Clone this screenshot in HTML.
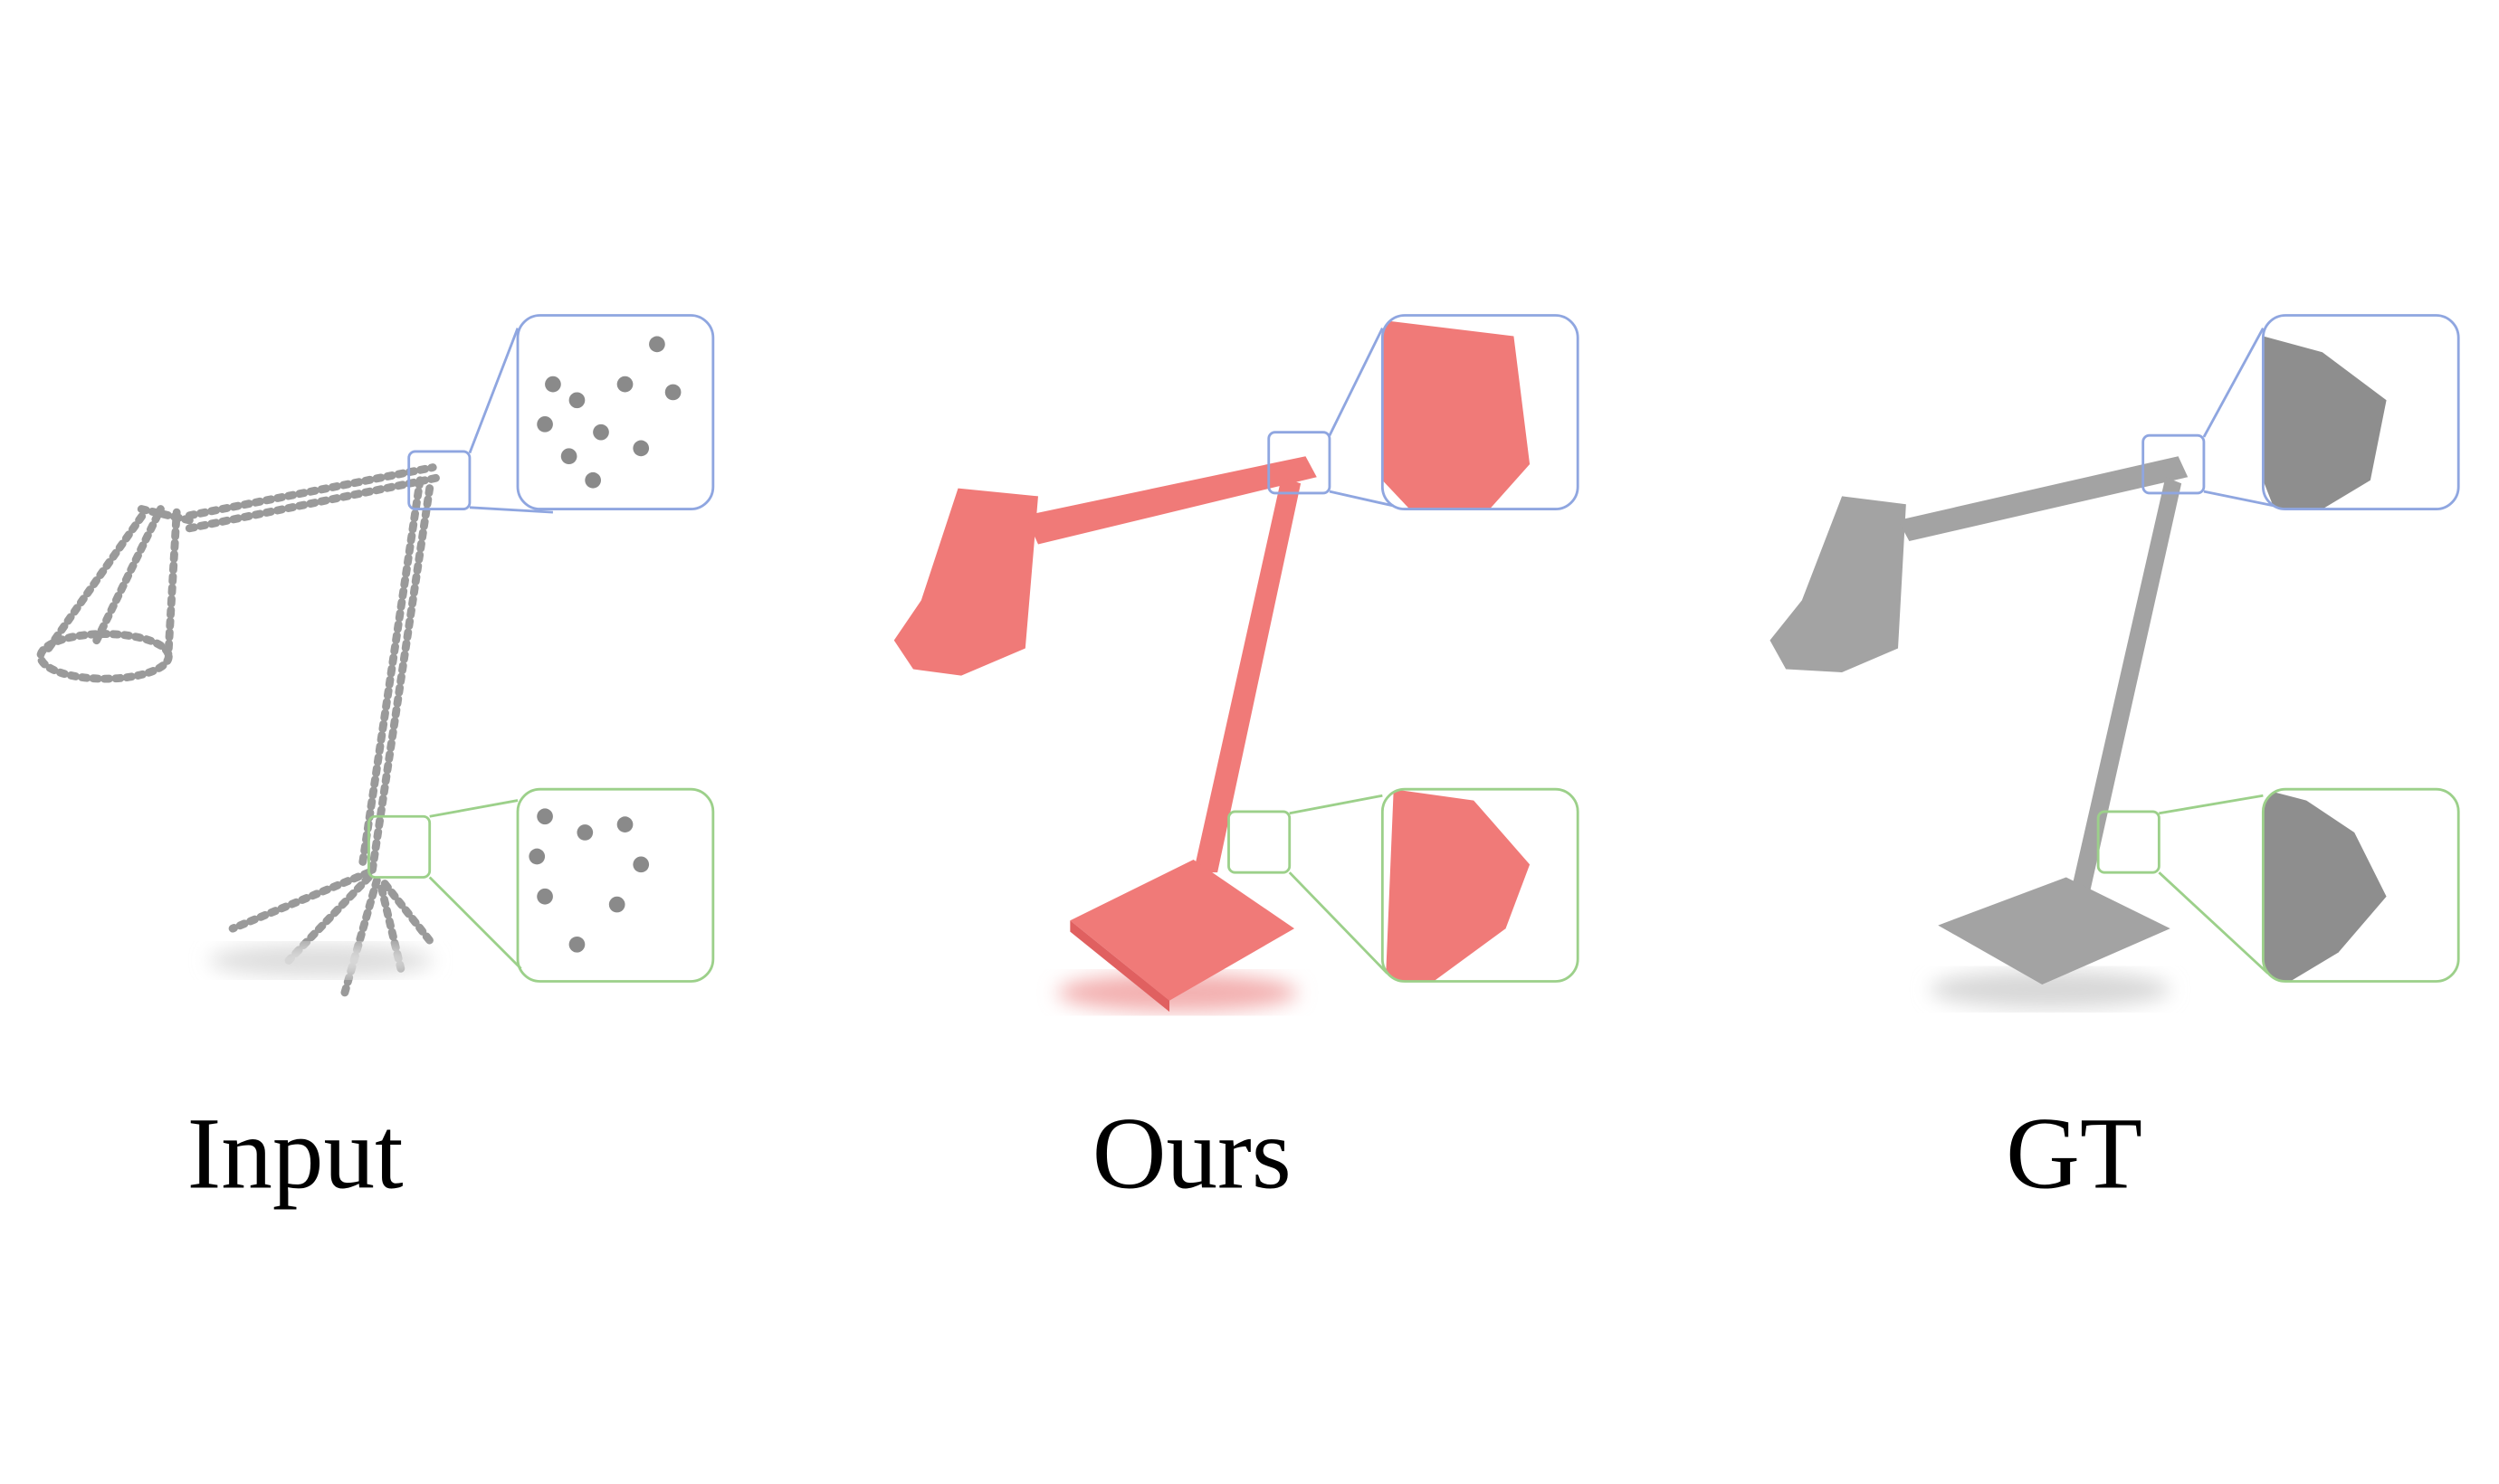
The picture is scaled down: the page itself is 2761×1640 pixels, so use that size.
<!DOCTYPE html>
<html><head><meta charset="utf-8"><style>html,body{margin:0;padding:0;background:#fff}svg{display:block}</style></head>
<body>
<svg width="2761" height="1640" viewBox="0 0 1560 927" xmlns="http://www.w3.org/2000/svg">
<defs>
<filter id="bl"><feGaussianBlur stdDeviation="6"/></filter>
<clipPath id="c1"><rect x="863" y="197" width="122" height="121" rx="14"/></clipPath>
<clipPath id="c2"><rect x="863" y="493" width="122" height="120" rx="14"/></clipPath>
<clipPath id="c3"><rect x="1413" y="197" width="122" height="121" rx="14"/></clipPath>
<clipPath id="c4"><rect x="1413" y="493" width="122" height="120" rx="14"/></clipPath>
</defs>
<rect width="1560" height="927" fill="#fff"/>

<!-- INPUT -->
<g fill="none" stroke="#9a9a9a" stroke-width="5" stroke-dasharray="3 4" stroke-linecap="round">
<ellipse cx="65" cy="410" rx="40" ry="14"/>
<path d="M30 405 L90 320 M105 405 L110 320 M60 400 L100 318 M88 318 L118 325"/>
<path d="M118 330 L275 298 M118 322 L270 292"/>
<path d="M268 305 L232 545 M262 300 L226 540"/>
<path d="M230 545 L145 580 M230 548 L180 600 M235 550 L215 620 M240 552 L270 590 M238 555 L250 605"/>
</g>
<ellipse cx="200" cy="600" rx="70" ry="10" fill="#ddd" filter="url(#bl)"/>
<g fill="none" stroke-width="1.6">
<g stroke="#8fa6e0">
<rect x="255" y="282" width="38" height="36" rx="4"/>
<rect x="323" y="197" width="122" height="121" rx="14"/>
<path d="M293 283 L323 205 M293 317 L345 320"/>
</g>
<g stroke="#9cd08a">
<rect x="230" y="510" width="38" height="38" rx="4"/>
<rect x="323" y="493" width="122" height="120" rx="14"/>
<path d="M268 510 L323 500 M268 548 L325 605"/>
</g>
</g>
<g fill="#8a8a8a">
<circle cx="345" cy="240" r="5"/><circle cx="360" cy="250" r="5"/><circle cx="340" cy="265" r="5"/><circle cx="375" cy="270" r="5"/><circle cx="355" cy="285" r="5"/><circle cx="390" cy="240" r="5"/><circle cx="410" cy="215" r="5"/><circle cx="420" cy="245" r="5"/><circle cx="400" cy="280" r="5"/><circle cx="370" cy="300" r="5"/>
<circle cx="340" cy="510" r="5"/><circle cx="365" cy="520" r="5"/><circle cx="390" cy="515" r="5"/><circle cx="400" cy="540" r="5"/><circle cx="385" cy="565" r="5"/><circle cx="360" cy="590" r="5"/><circle cx="340" cy="560" r="5"/><circle cx="335" cy="535" r="5"/>
</g>

<!-- OURS -->
<ellipse cx="735" cy="620" rx="75" ry="12" fill="#f3b0b0" filter="url(#bl)"/>
<g fill="#f07a78">
<path d="M598 305 L648 310 L640 405 L600 422 L570 418 L558 400 L575 375 Z"/>
<path d="M640 322 L815 285 L822 298 L648 340 Z"/>
<path d="M800 298 L812 302 L760 545 L745 545 Z"/>
<path d="M668 575 L745 537 L808 580 L730 625 Z"/>
<path d="M668 575 L730 625 L730 632 L668 582 Z" fill="#e06060"/>
<path clip-path="url(#c1)" d="M863 200 L945 210 L955 290 L930 318 L880 318 L863 300 Z"/>
<path clip-path="url(#c2)" d="M870 493 L920 500 L955 540 L940 580 L895 613 L865 613 Z"/>
</g>
<g fill="none" stroke-width="1.6">
<g stroke="#8fa6e0">
<rect x="792" y="270" width="38" height="38" rx="4"/>
<rect x="863" y="197" width="122" height="121" rx="14"/>
<path d="M830 272 L863 205 M830 307 L870 316"/>
</g>
<g stroke="#9cd08a">
<rect x="767" y="507" width="38" height="38" rx="4"/>
<rect x="863" y="493" width="122" height="120" rx="14"/>
<path d="M805 508 L863 497 M805 545 L866 608"/>
</g>
</g>

<!-- GT -->
<ellipse cx="1280" cy="618" rx="75" ry="12" fill="#d8d8d8" filter="url(#bl)"/>
<g fill="#a3a3a3">
<path d="M1150 310 L1190 315 L1185 405 L1150 420 L1115 418 L1105 400 L1125 375 Z"/>
<path d="M1185 325 L1360 285 L1366 298 L1192 338 Z"/>
<path d="M1352 298 L1362 302 L1302 570 L1290 570 Z"/>
<path d="M1210 578 L1290 548 L1355 580 L1275 615 Z"/>
<path clip-path="url(#c3)" d="M1413 210 L1450 220 L1490 250 L1480 300 L1450 318 L1420 318 L1413 300 Z" fill="#8e8e8e"/>
<path clip-path="url(#c4)" d="M1413 493 L1440 500 L1470 520 L1490 560 L1460 595 L1430 613 L1413 613 Z" fill="#8e8e8e"/>
</g>
<g fill="none" stroke-width="1.6">
<g stroke="#8fa6e0">
<rect x="1338" y="272" width="38" height="36" rx="4"/>
<rect x="1413" y="197" width="122" height="121" rx="14"/>
<path d="M1376 273 L1413 205 M1376 307 L1420 316"/>
</g>
<g stroke="#9cd08a">
<rect x="1310" y="507" width="38" height="38" rx="4"/>
<rect x="1413" y="493" width="122" height="120" rx="14"/>
<path d="M1348 508 L1413 497 M1348 545 L1416 608"/>
</g>
</g>

<g font-family="Liberation Serif, serif" font-size="64" fill="#000" text-anchor="middle">
<text x="184" y="742">Input</text>
<text x="744" y="742">Ours</text>
<text x="1295" y="742">GT</text>
</g>
</svg>
</body></html>
